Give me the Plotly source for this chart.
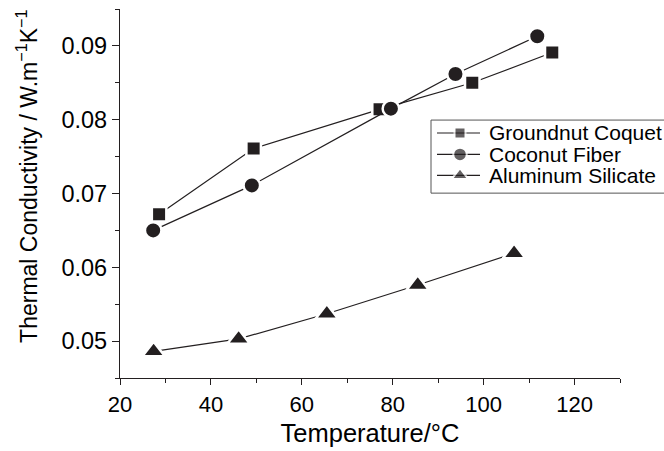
import plotly.graph_objects as go

# Data
groundnut_x = [28.6, 49.4, 77.1, 97.5, 115.1]
groundnut_y = [0.0672, 0.0761, 0.0814, 0.0850, 0.0891]

coconut_x = [27.3, 49.0, 79.6, 93.8, 111.8]
coconut_y = [0.0650, 0.0711, 0.0815, 0.0862, 0.0913]

alumina_x = [27.4, 46.1, 65.5, 85.5, 106.7]
alumina_y = [0.0486, 0.0503, 0.0537, 0.0576, 0.0619]

series_names = ["Groundnut Coquet", "Coconut Fiber", "Aluminum Silicate"]
series_symbols = ["square", "circle", "triangle-up"]

INK = "#231f20"
FONT = "Liberation Sans, Arial, Helvetica, sans-serif"

fig = go.Figure()

plot_sizes = [14.5, 16.5, 19.5]
for xs, ys, name, sym, sz in zip([groundnut_x, coconut_x, alumina_x],
                                 [groundnut_y, coconut_y, alumina_y],
                                 series_names, series_symbols, plot_sizes):
    fig.add_trace(go.Scatter(
        x=xs, y=ys, name=name, mode="lines+markers", showlegend=False,
        line=dict(color=INK, width=1.2),
        marker=dict(symbol=sym, size=sz, color=INK, line=dict(width=2.5, color="white")),
    ))

# Legend (Origin-style box), drawn on an invisible overlay axis that spans the plot area
leg_left, leg_right, leg_top, leg_bottom = 0.622, 1.12, 0.699, 0.501
row_y = [0.664, 0.606, 0.549]
sample_x = [0.634, 0.68, 0.72]
legend_sizes = [11, 13.5, 14.5]
annotations = []
for name, sym, ry, sz in zip(series_names, series_symbols, row_y, legend_sizes):
    fig.add_trace(go.Scatter(
        x=sample_x, y=[ry, ry, ry], xaxis="x2", yaxis="y2",
        mode="lines+markers", showlegend=False, hoverinfo="skip", cliponaxis=False,
        line=dict(color=INK, width=1.2),
        marker=dict(symbol=sym, size=[0, sz, 0], color=INK, line=dict(width=2, color="white")),
    ))
    annotations.append(dict(
        text=name, xref="paper", yref="paper", x=0.734, y=ry,
        xanchor="left", yanchor="middle", showarrow=False,
        font=dict(size=21, family=FONT, color="black"),
    ))

annotations.append(dict(
    text="Thermal Conductivity / W.m<sup>−1</sup>K<sup>−1</sup>",
    xref="paper", yref="paper", x=-0.186, y=0.545,
    xanchor="center", yanchor="middle", textangle=-90,
    showarrow=False, font=dict(size=23, family=FONT, color="black"),
))

fig.update_layout(
    width=664, height=451,
    margin=dict(l=120, r=44, t=9, b=73, autoexpand=False),
    paper_bgcolor="white", plot_bgcolor="white",
    font=dict(family=FONT, color="black", size=21),
    showlegend=False,
    annotations=annotations,
    shapes=[dict(type="rect", xref="paper", yref="paper",
                 x0=leg_left, x1=leg_right, y0=leg_bottom, y1=leg_top,
                 line=dict(color="#555555", width=1), fillcolor="rgba(0,0,0,0)", layer="below")],
    xaxis=dict(
        range=[20, 130], tickmode="linear", tick0=20, dtick=20, automargin=False,
        showgrid=False, zeroline=False,
        showline=True, linecolor=INK, linewidth=1.2,
        ticks="outside", ticklen=6, tickwidth=1.2, tickcolor=INK,
        minor=dict(ticks="outside", dtick=10, tick0=20, ticklen=4, tickwidth=1.2, tickcolor=INK, showgrid=False),
        tickfont=dict(size=22),
        title=dict(text="Temperature/°C", font=dict(size=25.5), standoff=8),
    ),
    yaxis=dict(
        range=[0.045, 0.095], tickmode="linear", tick0=0.05, dtick=0.01, automargin=False,
        showgrid=False, zeroline=False,
        showline=True, linecolor=INK, linewidth=1.2,
        ticks="outside", ticklen=7, tickwidth=1.2, tickcolor=INK,
        minor=dict(ticks="outside", dtick=0.005, tick0=0.045, ticklen=4, tickwidth=1.2, tickcolor=INK, showgrid=False),
        tickfont=dict(size=23.5),
    ),
    xaxis2=dict(overlaying="x", range=[0, 1], visible=False, fixedrange=True),
    yaxis2=dict(overlaying="y", range=[0, 1], visible=False, fixedrange=True),
)

fig.write_html("out.html")
